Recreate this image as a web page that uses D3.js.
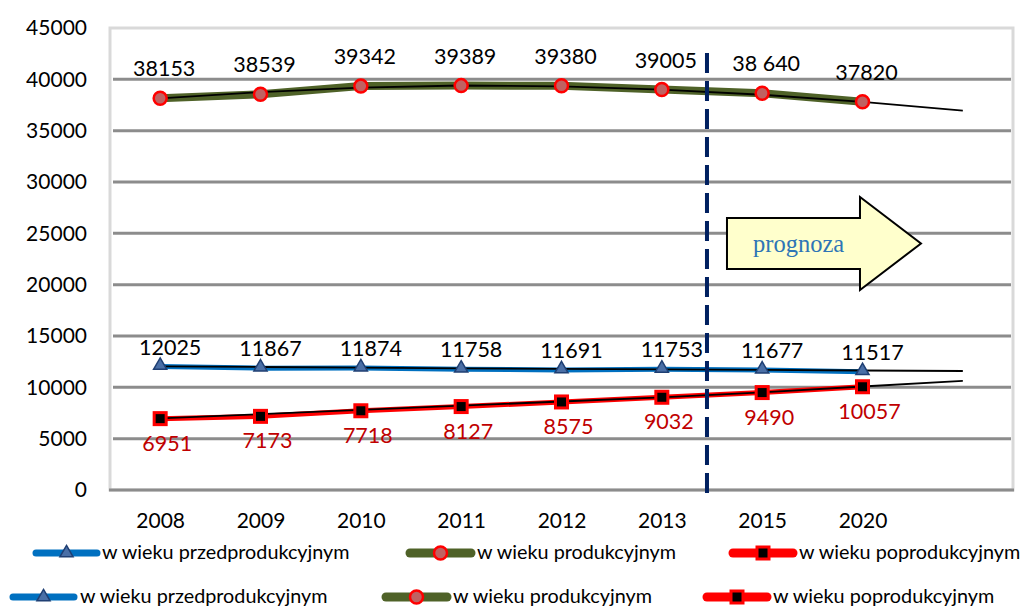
<!DOCTYPE html>
<html>
<head>
<meta charset="utf-8">
<script src="https://cdn.jsdelivr.net/npm/d3@7"></script>
<style>
  body { margin: 0; background: #ffffff; }
</style>
</head>
<body>
<div id="chart"></div>
<script>
var years = ["2008", "2009", "2010", "2011", "2012", "2013", "2015", "2020"];
var yTicks = [0, 5000, 10000, 15000, 20000, 25000, 30000, 35000, 40000, 45000];

var przed = [12025, 11867, 11874, 11758, 11691, 11753, 11677, 11517];
var prod = [38153, 38539, 39342, 39389, 39380, 39005, 38640, 37820];
var prodLabels = ["38153", "38539", "39342", "39389", "39380", "39005", "38 640", "37820"];
var po = [6951, 7173, 7718, 8127, 8575, 9032, 9490, 10057];

// trend lines (one extra slot after 2020)
var przedTrend = [12050, 11980, 11910, 11850, 11800, 11755, 11700, 11640, 11590];
var prodTrend = [38150, 38750, 39200, 39400, 39320, 39000, 38500, 37800, 36950];
var poTrend = [6980, 7390, 7800, 8210, 8620, 9030, 9500, 10080, 10620];

var legendNames = ["w wieku przedprodukcyjnym", "w wieku produkcyjnym", "w wieku poprodukcyjnym"];

var svgWidth = 1026;
var svgHeight = 608;
var plot = { left: 110, right: 1013, top: 28, bottom: 490 };
var labelFont = "Lato, 'Open Sans', sans-serif";

var svg = d3.select("#chart")
  .append("svg")
  .attr("width", svgWidth)
  .attr("height", svgHeight)
  .style("font-family", labelFont);

var slots = years.concat([""]);
var x = d3.scalePoint()
  .domain(slots)
  .range([plot.left, plot.right])
  .padding(0.5);

var y = d3.scaleLinear()
  .domain([0, 45000])
  .range([plot.bottom, plot.top]);

// plot area frame
svg.append("rect")
  .attr("x", plot.left)
  .attr("y", plot.top)
  .attr("width", plot.right - plot.left)
  .attr("height", plot.bottom - plot.top)
  .attr("fill", "none")
  .attr("stroke", "#d9d9d9")
  .attr("stroke-width", 3);

// gridlines
svg.append("g")
  .selectAll("line")
  .data(yTicks.filter(d => d > 0 && d < 45000))
  .enter()
  .append("line")
  .attr("x1", plot.left + 3)
  .attr("x2", plot.right - 2)
  .attr("y1", d => y(d))
  .attr("y2", d => y(d))
  .attr("stroke", "#8c8c8c")
  .attr("stroke-width", 3);

svg.append("line")
  .attr("x1", plot.left - 1)
  .attr("x2", plot.right + 1)
  .attr("y1", y(0))
  .attr("y2", y(0))
  .attr("stroke", "#8c8c8c")
  .attr("stroke-width", 3);

// y axis labels
var yAxis = d3.axisLeft(y).tickValues(yTicks).tickFormat(d3.format("d")).tickSize(0).tickPadding(0);
var yG = svg.append("g")
  .attr("transform", `translate(${plot.left - 23}, 0)`)
  .call(yAxis);
yG.select(".domain").remove();
yG.selectAll("text")
  .style("font-family", labelFont)
  .style("font-size", "21px")
  .attr("fill", "#000");

// x axis labels
var xAxis = d3.axisBottom(x).tickSize(0).tickPadding(0);
var xG = svg.append("g")
  .attr("transform", `translate(0, ${plot.bottom + 23})`)
  .call(xAxis);
xG.select(".domain").remove();
xG.selectAll("text")
  .style("font-family", labelFont)
  .style("font-size", "21px")
  .attr("fill", "#000");

var line = d3.line()
  .x((d, i) => x(slots[i]))
  .y(d => y(d));

// series lines
svg.append("path").datum(po)
  .attr("d", line).attr("fill", "none")
  .attr("stroke", "#ff0000").attr("stroke-width", 5);
svg.append("path").datum(prod)
  .attr("d", line).attr("fill", "none")
  .attr("stroke", "#4f6228").attr("stroke-width", 8);
svg.append("path").datum(przed)
  .attr("d", line).attr("fill", "none")
  .attr("stroke", "#0070c0").attr("stroke-width", 5);

// markers
var tri = d3.symbol().type(d3.symbolTriangle).size(75);

function drawTriangles(g, cx, cy) {
  g.append("path")
    .attr("d", tri())
    .attr("transform", `translate(${cx}, ${cy})`)
    .attr("fill", "#4a6fa6")
    .attr("stroke", "#1f3f73")
    .attr("stroke-width", 1.5);
}
function drawCircle(g, cx, cy) {
  g.append("circle")
    .attr("cx", cx).attr("cy", cy).attr("r", 6.5)
    .attr("fill", "#c06262")
    .attr("stroke", "#ff0000")
    .attr("stroke-width", 2.5);
}
function drawSquare(g, cx, cy) {
  g.append("rect")
    .attr("x", cx - 6).attr("y", cy - 6)
    .attr("width", 12).attr("height", 12)
    .attr("fill", "#000")
    .attr("stroke", "#ff0000")
    .attr("stroke-width", 3);
}

// trend lines
[przedTrend, prodTrend, poTrend].forEach(function(t) {
  svg.append("path").datum(t)
    .attr("d", line).attr("fill", "none")
    .attr("stroke", "#000").attr("stroke-width", 1.8);
});

var markers = svg.append("g");
po.forEach((d, i) => drawSquare(markers, x(years[i]), y(d)));
prod.forEach((d, i) => drawCircle(markers, x(years[i]), y(d)));
przed.forEach((d, i) => drawTriangles(markers, x(years[i]), y(d) - 1));

// data labels
svg.append("g").selectAll("text")
  .data(prod).enter().append("text")
  .attr("x", (d, i) => x(years[i]) + 4)
  .attr("y", d => y(d) - 22)
  .attr("text-anchor", "middle")
  .style("font-size", "21.5px")
  .attr("fill", "#000")
  .text((d, i) => prodLabels[i]);

svg.append("g").selectAll("text")
  .data(przed).enter().append("text")
  .attr("x", (d, i) => x(years[i]) + 10)
  .attr("y", d => y(d) - 12)
  .attr("text-anchor", "middle")
  .style("font-size", "21.5px")
  .attr("fill", "#000")
  .text(d => d);

svg.append("g").selectAll("text")
  .data(po).enter().append("text")
  .attr("x", (d, i) => x(years[i]) + 7)
  .attr("y", d => y(d) + 32)
  .attr("text-anchor", "middle")
  .style("font-size", "21.5px")
  .attr("fill", "#c00000")
  .text(d => d);

// forecast divider
var splitX = x("2013") + x.step() * 0.45;
svg.append("line")
  .attr("x1", splitX).attr("x2", splitX)
  .attr("y1", 53).attr("y2", plot.bottom + 8)
  .attr("stroke", "#002060")
  .attr("stroke-width", 4)
  .attr("stroke-dasharray", "20 8");

// "prognoza" arrow
var ax = splitX + 20, aw = 194, bodyTop = 218, bodyBot = 269, headTop = 197, headBot = 290;
var arrowPts = [
  [ax, bodyTop], [ax + 133, bodyTop], [ax + 133, headTop], [ax + aw, (headTop + headBot) / 2],
  [ax + 133, headBot], [ax + 133, bodyBot], [ax, bodyBot]
];
svg.append("polygon")
  .attr("points", arrowPts.map(p => p.join(",")).join(" "))
  .attr("fill", "#ffffcc")
  .attr("stroke", "#000")
  .attr("stroke-width", 2);
svg.append("text")
  .attr("x", ax + 26)
  .attr("y", 252)
  .style("font-family", "'Liberation Serif', 'DejaVu Serif', serif")
  .style("font-size", "24.5px")
  .attr("fill", "#2e75b6")
  .text("prognoza");

// legend (two identical rows as in the original)
var legendRows = [
  { y: 553, items: [[33, 100, 102], [407, 474, 477], [730, 796, 799]] },
  { y: 597, items: [[10, 77, 80], [383, 450, 453], [704, 770, 773]] }
];
var legendColors = ["#0070c0", "#4f6228", "#ff0000"];
var legendWidths = [7, 9, 9];
var legendMarkers = [drawTriangles, drawCircle, drawSquare];

legendRows.forEach(function(row) {
  var g = svg.append("g");
  row.items.forEach(function(it, k) {
    g.append("line")
      .attr("x1", it[0] + 3).attr("x2", it[1] - 3)
      .attr("y1", row.y).attr("y2", row.y)
      .attr("stroke", legendColors[k])
      .attr("stroke-width", legendWidths[k])
      .attr("stroke-linecap", "round");
    legendMarkers[k](g, (it[0] + it[1]) / 2, row.y);
    g.append("text")
      .attr("x", it[2])
      .attr("y", row.y + 6)
      .style("font-size", "19.8px")
      .attr("fill", "#000")
      .text(legendNames[k]);
  });
});
</script>
</body>
</html>
